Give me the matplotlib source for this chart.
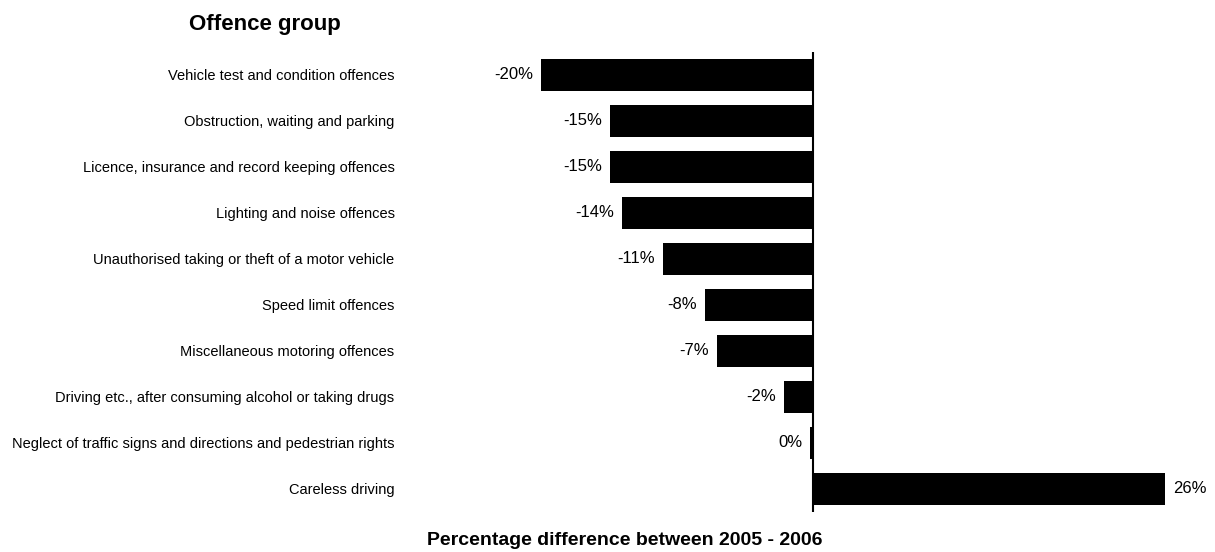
import numpy as np
import matplotlib
matplotlib.use('Agg')
import matplotlib.pyplot as plt

plt.rcParams['font.family'] = ['Liberation Sans', 'DejaVu Sans']

# offence groups, top to bottom
groups = ['Vehicle test and condition offences',
          'Obstruction, waiting and parking',
          'Licence, insurance and record keeping offences',
          'Lighting and noise offences',
          'Unauthorised taking or theft of a motor vehicle',
          'Speed limit offences',
          'Miscellaneous motoring offences',
          'Driving etc., after consuming alcohol or taking drugs',
          'Neglect of traffic signs and directions and pedestrian rights',
          'Careless driving']
# percentage change 2005 -> 2006
change = [-20.1, -15.0, -15.0, -14.1, -11.1, -8.0, -7.1, -2.1, -0.2, 26.0]

fig = plt.figure(figsize=(12.15, 5.52), dpi=100)
ax = fig.add_axes([0.335, 0.0725, 0.668, 0.8333])

y = np.arange(len(groups))
ax.barh(y, change, height=0.7, color='black')
ax.axvline(0, color='black', linewidth=1.5)

for yi, v in zip(y, change):
    txt = '%d%%' % round(v) if round(v) != 0 else '0%'
    if v < 0:
        ax.text(v - 0.6, yi, txt, ha='right', va='center', fontsize=12)
    else:
        ax.text(v + 0.6, yi, txt, ha='left', va='center', fontsize=12)

ax.set_xlim(-30, 30)
ax.set_ylim(len(groups) - 0.5, -0.5)
ax.set_yticks(y)
ax.set_yticklabels(groups, fontsize=10.5)
ax.set_xticks([])
ax.tick_params(axis='y', length=0, pad=9)
for s in ax.spines.values():
    s.set_visible(False)

fig.text(0.218, 0.955, 'Offence group', ha='center', va='center',
         fontsize=16, fontweight='bold')
fig.text(0.514, 0.02, 'Percentage difference between 2005 - 2006',
         ha='center', va='center', fontsize=14, fontweight='bold')

fig.savefig('out.png', dpi=100)
